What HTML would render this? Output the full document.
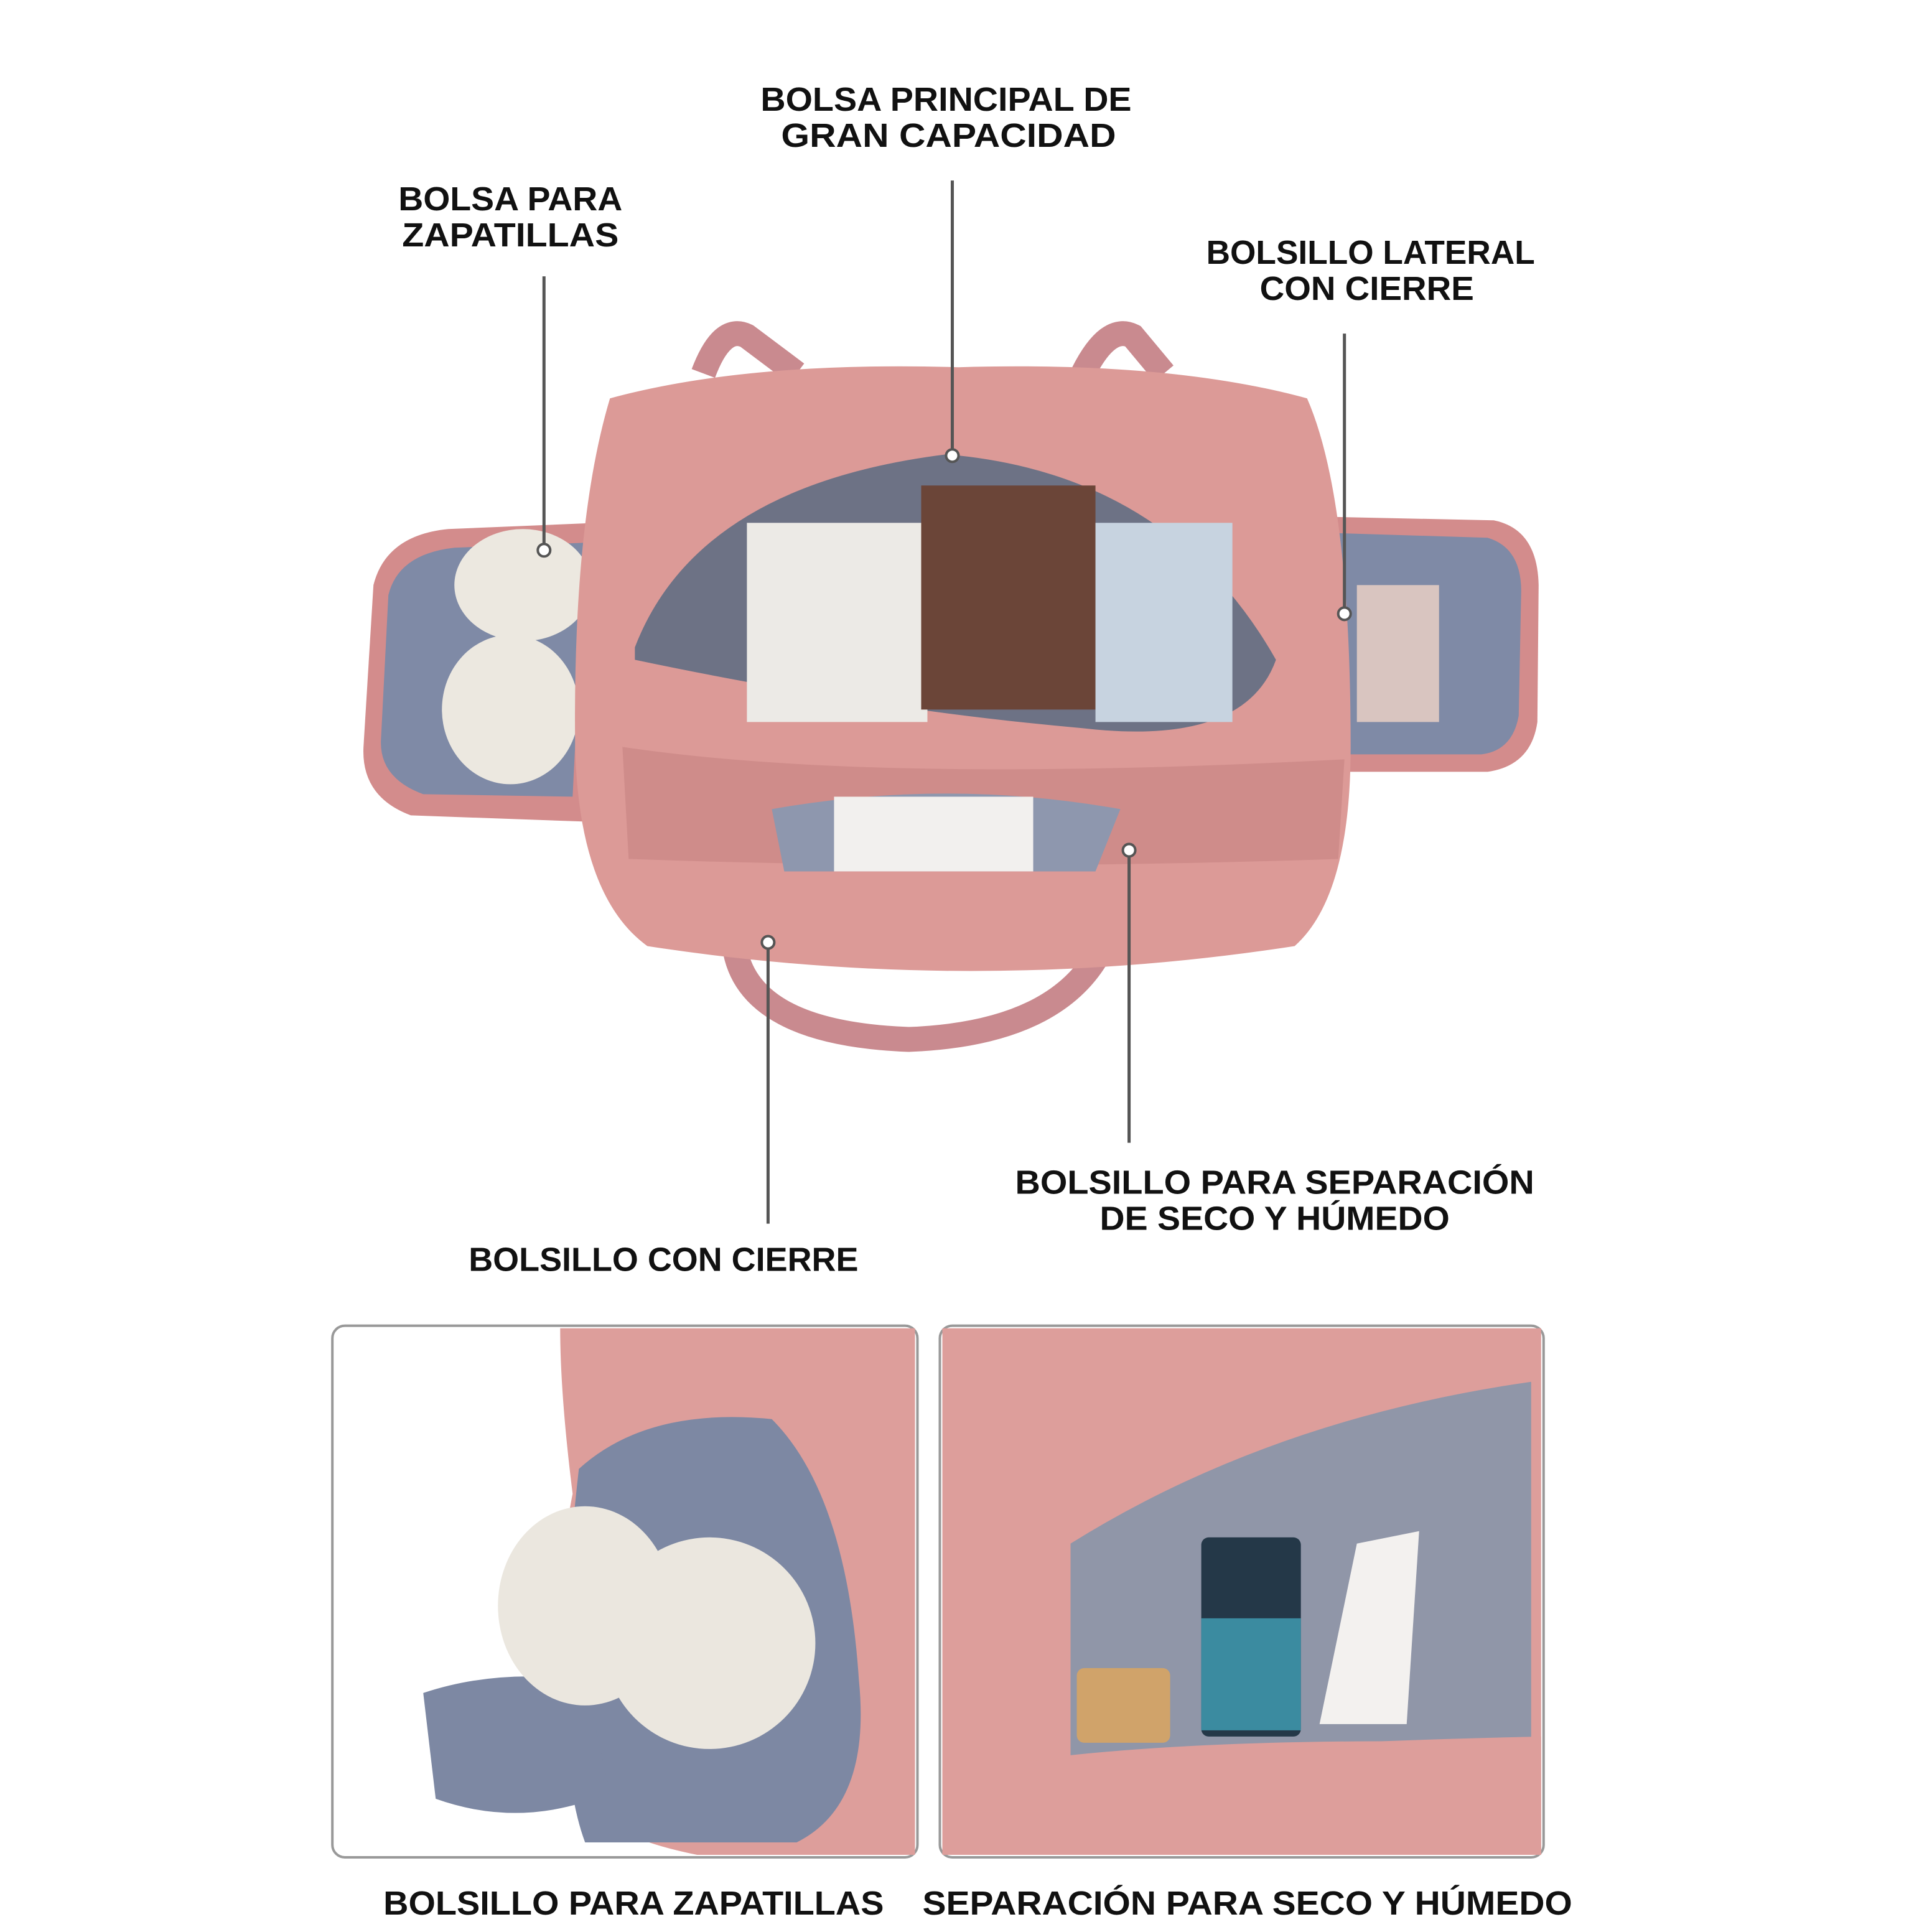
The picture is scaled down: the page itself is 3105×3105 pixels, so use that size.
<!DOCTYPE html>
<html><head><meta charset="utf-8"><style>
html,body{margin:0;padding:0;background:#fff}
svg{display:block}
text{font-family:"Liberation Sans",sans-serif;font-weight:900;fill:#111;text-anchor:middle}
</style></head><body>
<svg width="3105" height="3105" viewBox="0 0 1552 1552" xmlns="http://www.w3.org/2000/svg">
<rect width="1552" height="1552" fill="#fff"/>
<!-- side wings -->
<path d="M300 470 Q310 430 360 425 L480 420 L470 660 L330 655 Q290 640 292 600 Z" fill="#d38c8c"/>
<path d="M312 478 Q320 445 365 440 L470 436 L460 640 L340 638 Q305 625 306 595 Z" fill="#7f8aa6"/>
<path d="M1060 415 L1200 418 Q1235 425 1236 470 L1235 580 Q1230 615 1195 620 L1065 620 Z" fill="#d38c8c"/>
<path d="M1065 428 L1195 432 Q1222 440 1222 475 L1220 575 Q1215 603 1190 606 L1070 606 Z" fill="#7f8aa6"/>
<rect x="1090" y="470" width="66" height="110" fill="#d9c5c0"/>
<!-- shoes -->
<ellipse cx="420" cy="470" rx="55" ry="45" fill="#ece8e0"/>
<ellipse cx="410" cy="570" rx="55" ry="60" fill="#ece8e0"/>
<!-- handles -->
<path d="M565 300 Q580 260 600 270 L640 300" stroke="#c98a8f" stroke-width="20" fill="none"/>
<path d="M870 300 Q890 260 910 270 L935 300" stroke="#c98a8f" stroke-width="20" fill="none"/>
<path d="M590 760 Q600 830 730 835 Q860 830 890 750" stroke="#c98a8f" stroke-width="20" fill="none"/>
<!-- main body -->
<path d="M490 320 Q600 290 770 295 Q940 290 1050 320 Q1085 400 1085 600 Q1085 720 1040 760 Q780 800 520 760 Q465 720 462 600 Q460 420 490 320 Z" fill="#dc9a97"/>
<!-- opening -->
<path d="M510 520 Q560 390 760 365 Q940 380 1025 530 Q1000 600 870 585 Q700 570 510 530 Z" fill="#6d7285"/>
<rect x="600" y="420" width="145" height="160" fill="#eceae6"/>
<rect x="740" y="390" width="140" height="180" fill="#6b4538"/>
<rect x="880" y="420" width="110" height="160" fill="#c7d3e0"/>
<path d="M500 600 Q700 630 1080 610 L1075 690 Q780 700 505 690 Z" fill="#cf8c8a"/>
<path d="M620 650 Q760 625 900 650 L880 700 L630 700 Z" fill="#8e97ae"/>
<rect x="670" y="640" width="160" height="60" fill="#f2f0ee"/>
<!-- bottom panels -->
<rect x="267" y="1065" width="470" height="427" rx="10" fill="#fff" stroke="#999" stroke-width="2"/>
<path d="M450 1067 L735 1067 L735 1490 L560 1490 Q460 1470 455 1420 Q440 1300 460 1200 Q450 1120 450 1067 Z" fill="#dd9e9b"/>
<path d="M465 1180 Q520 1130 620 1140 Q680 1200 690 1350 Q700 1450 640 1480 L470 1480 Q440 1400 465 1180 Z" fill="#7d88a3"/>
<path d="M340 1360 Q400 1340 470 1350 L490 1440 Q420 1470 350 1445 Z" fill="#7d88a3"/>
<ellipse cx="470" cy="1290" rx="70" ry="80" fill="#ebe7df"/>
<ellipse cx="570" cy="1320" rx="85" ry="85" fill="#ebe7df"/>
<rect x="755" y="1065" width="485" height="427" rx="10" fill="#fff" stroke="#999" stroke-width="2"/>
<path d="M757 1067 L1238 1067 L1238 1490 L757 1490 Z" fill="#dd9e9b"/>
<path d="M860 1240 Q1020 1140 1230 1110 L1230 1400 Q1000 1395 860 1410 Z" fill="#9096a8"/>
<rect x="965" y="1235" width="80" height="160" rx="6" fill="#243848"/>
<rect x="965" y="1300" width="80" height="90" fill="#3b8ba0"/>
<rect x="865" y="1340" width="75" height="60" rx="6" fill="#d0a36a"/>
<path d="M1090 1240 L1140 1230 L1130 1385 L1060 1385 Z" fill="#f3f1ef"/>
<path d="M757 1420 Q1000 1400 1238 1395 L1238 1490 L757 1490 Z" fill="#dd9e9b"/>
<!-- connectors -->
<g stroke="#555" stroke-width="2.5" fill="none">
<line x1="437" y1="222" x2="437" y2="440"/>
<line x1="765" y1="145" x2="765" y2="365"/>
<line x1="1080" y1="268" x2="1080" y2="492"/>
<line x1="907" y1="683" x2="907" y2="918"/>
<line x1="617" y1="757" x2="617" y2="983"/>
</g>
<g fill="#fff" stroke="#555" stroke-width="2">
<circle cx="437" cy="442" r="5"/><circle cx="765" cy="366" r="5"/><circle cx="1080" cy="493" r="5"/>
<circle cx="907" cy="683" r="5"/><circle cx="617" cy="757" r="5"/>
</g>
<!-- labels -->
<g font-size="27">
<text x="760" y="89" textLength="298" lengthAdjust="spacingAndGlyphs">BOLSA PRINCIPAL DE</text>
<text x="762" y="118" textLength="269" lengthAdjust="spacingAndGlyphs">GRAN CAPACIDAD</text>
<text x="410" y="169" textLength="180" lengthAdjust="spacingAndGlyphs">BOLSA PARA</text>
<text x="410" y="198" textLength="174" lengthAdjust="spacingAndGlyphs">ZAPATILLAS</text>
<text x="1101" y="212" textLength="264" lengthAdjust="spacingAndGlyphs">BOLSILLO LATERAL</text>
<text x="1098" y="241" textLength="172" lengthAdjust="spacingAndGlyphs">CON CIERRE</text>
<text x="1024" y="959" textLength="417" lengthAdjust="spacingAndGlyphs">BOLSILLO PARA SEPARACIÓN</text>
<text x="1024" y="988" textLength="281" lengthAdjust="spacingAndGlyphs">DE SECO Y HÚMEDO</text>
<text x="533" y="1021" textLength="313" lengthAdjust="spacingAndGlyphs">BOLSILLO CON CIERRE</text>
<text x="509" y="1538" textLength="402" lengthAdjust="spacingAndGlyphs">BOLSILLO PARA ZAPATILLAS</text>
<text x="1002" y="1538" textLength="522" lengthAdjust="spacingAndGlyphs">SEPARACIÓN PARA SECO Y HÚMEDO</text>
</g>
</svg>
</body></html>
